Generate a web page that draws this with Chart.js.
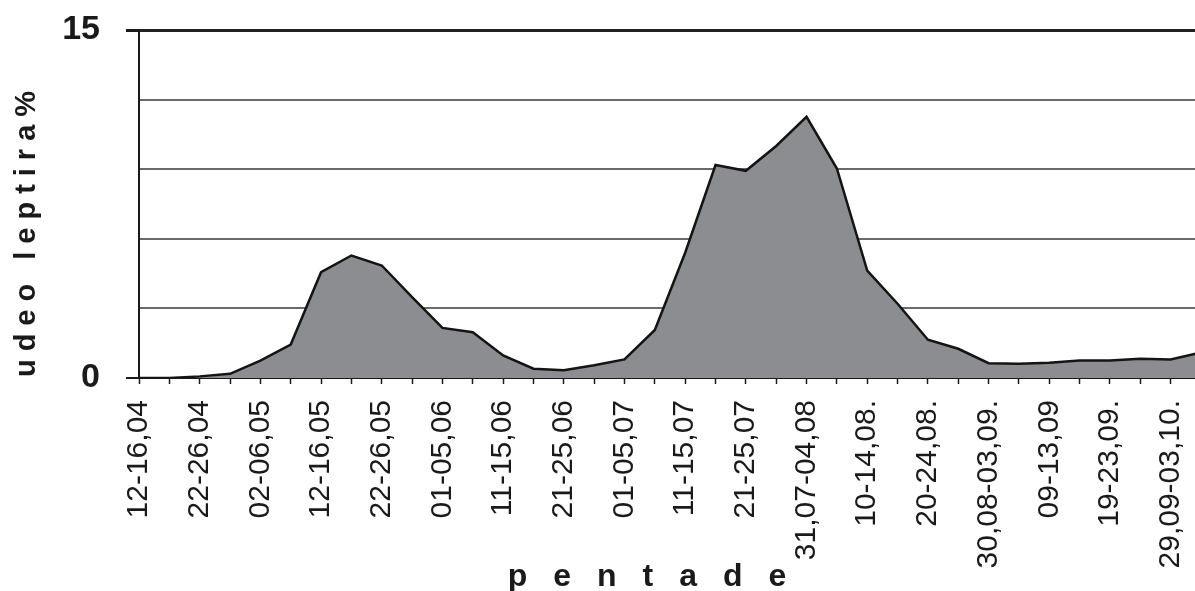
<!DOCTYPE html>
<html>
<head>
<meta charset="utf-8">
<script src="https://cdn.jsdelivr.net/npm/chart.js@4.4.1/dist/chart.umd.min.js"></script>
<style>
  html, body { margin: 0; padding: 0; background: #fff; overflow: hidden; }
  #wrap { position: relative; width: 1212px; height: 591px; }
</style>
</head>
<body>
<div id="wrap"><canvas id="pentadeChart"></canvas></div>
<script>
// pentade (5-day periods), April - October
const pentades = [
  '12-16,04', '17-21,04', '22-26,04', '27,04-01,05', '02-06,05', '07-11,05',
  '12-16,05', '17-21,05', '22-26,05', '27-31,05', '01-05,06', '06-10,06',
  '11-15,06', '16-20,06', '21-25,06', '26-30,06', '01-05,07', '06-10,07',
  '11-15,07', '16-20,07', '21-25,07', '26-30,07', '31,07-04,08', '05-09,08.',
  '10-14,08.', '15-19,08.', '20-24,08.', '25-29,08.', '30,08-03,09.', '04-08,09.',
  '09-13,09', '14-18,09.', '19-23,09.', '24-28,09.', '29,09-03,10.', '04-08,10.'
];
// udeo leptira %
const udeo = [
  0, 0, 0.07, 0.18, 0.75, 1.44,
  4.56, 5.28, 4.85, 3.49, 2.16, 1.97,
  0.97, 0.4, 0.33, 0.55, 0.8, 2.07,
  5.4, 9.18, 8.93, 10.0, 11.26, 9.03,
  4.63, 3.2, 1.65, 1.26, 0.64, 0.61,
  0.66, 0.75, 0.75, 0.83, 0.8, 1.1
];
const yMin = 0, yMax = 15, yStep = 3;
const yLabelled = [0, 15];

const axisTitles = {
  id: 'axisTitles',
  afterDraw(chart) {
    const ctx = chart.ctx;
    ctx.save();
    ctx.fillStyle = '#1a1a1a';
    ctx.font = 'bold 29px "Liberation Sans", Arial, sans-serif';
    ctx.textAlign = 'center';
    ctx.textBaseline = 'middle';
    ctx.letterSpacing = '8px';
    ctx.translate(27, 230);
    ctx.rotate(-Math.PI / 2);
    ctx.fillText('udeo leptira%', 0, 0);
    ctx.restore();

    ctx.save();
    ctx.fillStyle = '#1a1a1a';
    ctx.font = 'bold 32px "Liberation Sans", Arial, sans-serif';
    ctx.textAlign = 'center';
    ctx.textBaseline = 'middle';
    ctx.letterSpacing = '26px';
    ctx.fillText('pentade', 660, 577);
    ctx.restore();
  }
};

const ctxEl = document.getElementById('pentadeChart');
if (ctxEl) {
  new Chart(ctxEl, {
    type: 'line',
    data: {
      labels: pentades,
      datasets: [
        {
          data: udeo,
          borderColor: '#141414',
          borderWidth: 2.5,
          backgroundColor: '#8b8d90',
          fill: 'origin',
          tension: 0,
          pointRadius: 0
        }
      ]
    },
    options: {
      responsive: true,
      maintainAspectRatio: false,
      animation: false,
      layout: {
        padding: { top: 30, right: 11, left: 0, bottom: 0 }
      },
      plugins: {
        legend: { display: false },
        tooltip: { enabled: false }
      },
      scales: {
        x: {
          offset: false,
          afterFit: scale => {
            scale.height = 213;
            scale.paddingLeft = 0;
            scale.paddingRight = 0;
          },
          border: { color: '#1a1a1a', width: 2 },
          grid: {
            drawOnChartArea: false,
            tickLength: 6,
            tickColor: '#1a1a1a',
            tickWidth: 1.5
          },
          ticks: {
            autoSkip: false,
            minRotation: 90,
            maxRotation: 90,
            padding: 16,
            color: '#1a1a1a',
            font: { family: '"Liberation Sans", Arial, sans-serif', size: 30 },
            callback: function (val, i) {
              return i % 2 === 0 ? this.getLabelForValue(val) : '';
            }
          }
        },
        y: {
          min: yMin,
          max: yMax,
          afterFit: scale => {
            scale.width = 139;
            scale.paddingTop = 0;
            scale.paddingBottom = 0;
          },
          border: { color: '#1a1a1a', width: 2 },
          grid: {
            color: c => (c.tick && c.tick.value === yMax ? '#222' : '#6a6a6a'),
            lineWidth: c => (c.tick && c.tick.value === yMax ? 3 : 2),
            tickLength: 13,
            tickColor: c => (c.tick && yLabelled.includes(c.tick.value) ? '#1a1a1a' : 'rgba(0,0,0,0)')
          },
          ticks: {
            stepSize: yStep,
            padding: 26,
            color: '#1a1a1a',
            font: { family: '"Liberation Sans", Arial, sans-serif', size: 34, weight: 'bold' },
            callback: v => (yLabelled.includes(v) ? v : '')
          }
        }
      }
    },
    plugins: [axisTitles]
  });
}
</script>
</body>
</html>
